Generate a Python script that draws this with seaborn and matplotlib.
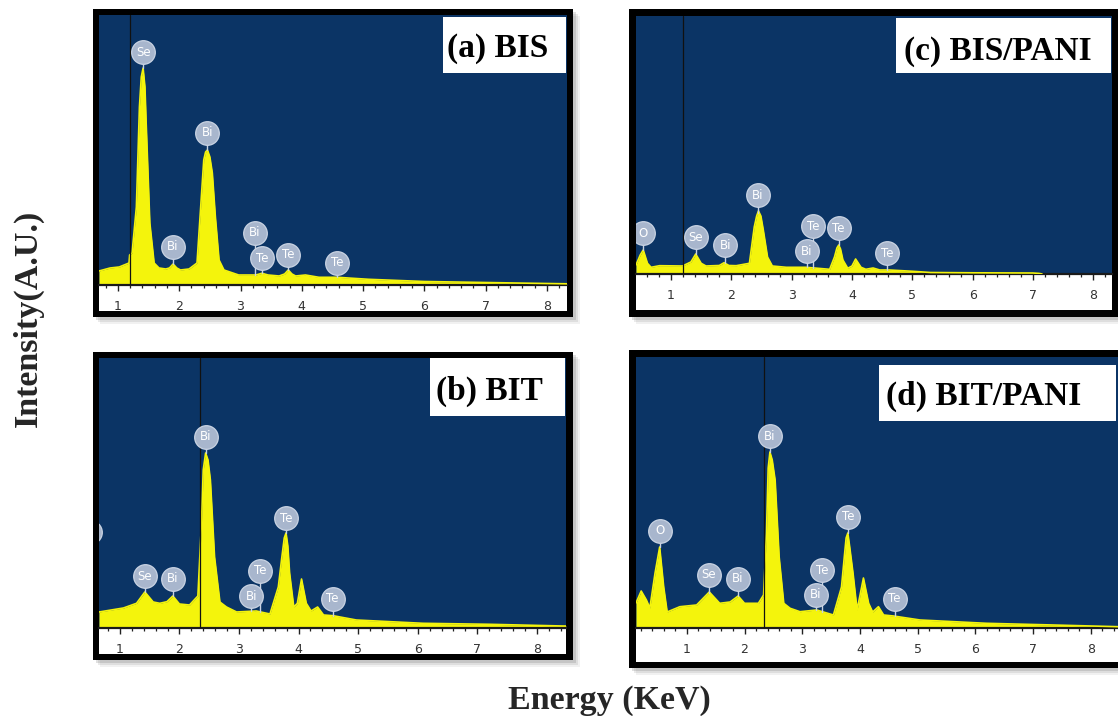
import numpy as np
import pandas as pd
import matplotlib
matplotlib.use("Agg")
import matplotlib.pyplot as plt
from matplotlib.patches import Rectangle
from matplotlib.ticker import MultipleLocator
import seaborn as sns

# ---------------------------------------------------------------- spectra
# EDS spectra: energy (keV) and intensity (arbitrary units)
bis_energy = [0.69, 0.87, 1.02, 1.18, 1.19, 1.23, 1.30, 1.35, 1.38, 1.41, 1.44, 1.46,
              1.52, 1.59, 1.67, 1.78, 1.84, 1.90, 1.96, 2.02, 2.16, 2.29, 2.35, 2.40,
              2.43, 2.46, 2.50, 2.54, 2.59, 2.65, 2.73, 2.97, 3.25, 3.35, 3.45, 3.63,
              3.72, 3.78, 3.84, 3.90, 4.06, 4.28, 4.58, 5.09, 6.00, 7.00, 8.00, 8.33]
bis_counts = [14, 17, 18, 22, 30, 32, 78, 178, 208, 217, 198, 162,
              62, 22, 17, 16, 17, 21, 17, 15, 16, 22, 78, 125,
              133, 135, 128, 112, 68, 25, 15, 10, 10, 11.7, 10, 9,
              11, 15, 11, 9, 10, 7.7, 7.7, 5.7, 3.5, 2.5, 1.5, 1.2]

bis_pani_energy = [0.42, 0.49, 0.54, 0.61, 0.67, 0.81, 1.19, 1.33, 1.41, 1.50, 1.58,
                   1.80, 1.88, 1.96, 2.08, 2.30, 2.38, 2.42, 2.45, 2.49, 2.53, 2.60,
                   2.68, 2.91, 3.24, 3.63, 3.71, 3.75, 3.78, 3.81, 3.85, 3.93, 4.00,
                   4.06, 4.15, 4.23, 4.35, 4.46, 4.62, 5.01, 5.30, 6.00, 7.00, 7.10, 7.15]
bis_pani_counts = [9, 19, 24, 10.7, 6.7, 8.3, 8, 12, 20, 10.7, 8,
                   8.5, 11.3, 8.5, 8.3, 10.7, 47, 58, 63, 58, 44, 17,
                   8, 6.7, 6.7, 4.7, 17, 26, 29, 25, 14, 5.7, 8,
                   15, 6.7, 4.7, 6, 4, 4, 2.7, 1.5, 1.2, 1.0, 0.6, 0]

bit_energy = [0.65, 1.06, 1.28, 1.42, 1.56, 1.67, 1.79, 1.89, 2.00, 2.17, 2.31, 2.37,
              2.40, 2.44, 2.48, 2.52, 2.59, 2.68, 2.79, 2.96, 3.29, 3.52, 3.66, 3.72,
              3.76, 3.79, 3.82, 3.85, 3.92, 3.98, 4.05, 4.13, 4.21, 4.32, 4.42, 4.58,
              4.97, 6.09, 7.21, 8.44, 8.49]
bit_counts = [16, 20, 24.7, 36, 26, 24.7, 26.3, 32, 24, 23, 32, 105,
              158, 175, 168, 148, 71, 26, 21, 16, 17, 14, 41, 71,
              90, 95, 82, 55, 21, 24.7, 49, 24.7, 17, 21, 13, 12.3,
              8, 4.7, 3.7, 2, 2]

bit_pani_energy = [0.12, 0.21, 0.30, 0.36, 0.45, 0.53, 0.60, 0.66, 0.88, 1.17, 1.39,
                   1.57, 1.75, 1.89, 2.00, 2.24, 2.33, 2.38, 2.41, 2.44, 2.48, 2.53,
                   2.60, 2.68, 2.79, 2.96, 3.25, 3.54, 3.68, 3.73, 3.76, 3.79, 3.82,
                   3.88, 3.95, 4.06, 4.15, 4.22, 4.32, 4.41, 4.58, 5.04, 6.19, 7.35, 8.47]
bit_pani_counts = [25, 37, 28, 20, 55, 81, 41, 16, 21.3, 23, 36,
                   24.7, 26, 32, 24.7, 24.7, 33, 95, 160, 176, 168, 148,
                   71, 24.7, 19.7, 16.3, 18, 13, 41, 72, 90, 95, 82,
                   54.7, 18, 50, 24.7, 16, 21.3, 13, 12, 8, 4.7, 3, 1.3]

# ---------------------------------------------------------------- peak markers
bis_peak_names = ["Se", "Bi", "Bi", "Bi", "Te", "Te", "Te"]
bis_peak_energy = [1.41, 2.46, 1.90, 3.23, 3.35, 3.78, 4.58]
bis_peak_level = [233, 152, 38, 52, 27, 30, 22]

bis_pani_peak_names = ["O", "Se", "Bi", "Bi", "Te", "Bi", "Te", "Te"]
bis_pani_peak_energy = [0.54, 1.41, 1.90, 2.44, 3.35, 3.25, 3.78, 4.58]
bis_pani_peak_level = [41, 37, 29, 79, 48, 23, 46, 21]

bit_peak_names = ["O", "Se", "Bi", "Bi", "Te", "Bi", "Te", "Te"]
bit_peak_energy = [0.50, 1.42, 1.89, 2.44, 3.35, 3.21, 3.79, 4.57]
bit_peak_level = [96, 52, 49, 191, 57, 32, 110, 29]

bit_pani_peak_names = ["O", "Se", "Bi", "Bi", "Te", "Bi", "Te", "Te"]
bit_pani_peak_energy = [0.53, 1.38, 1.88, 2.44, 3.34, 3.24, 3.79, 4.60]
bit_pani_peak_level = [97, 53, 49, 192, 58, 33, 111, 29]

panel_titles = ["(a) BIS", "(c) BIS/PANI", "(b) BIT", "(d) BIT/PANI"]
tick_values = [1, 2, 3, 4, 5, 6, 7, 8]
cursor_energy = [1.2, 1.2, 2.34, 2.34]

# ---------------------------------------------------------------- styling
NAVY = "#0b3465"
YELLOW = "#f4f40c"
BADGE = "#a8b6cd"
BADGE_EDGE = "#c9d3e3"

W, H, DPI = 1118, 716, 100

sns.set_theme(style="ticks")
plt.rcParams["font.family"] = ["DejaVu Sans"]

fig = plt.figure(figsize=(W / DPI, H / DPI), dpi=DPI)
fig.patch.set_facecolor("white")


def fig_box(x0, y0, x1, y1):
    """Pixel box (top-left origin) -> figure-fraction [left, bottom, width, height]."""
    return [x0 / W, 1 - y1 / H, (x1 - x0) / W, (y1 - y0) / H]


def add_rect(x0, y0, x1, y1, **kw):
    l, b, w, h = fig_box(x0, y0, x1, y1)
    fig.add_artist(Rectangle((l, b), w, h, transform=fig.transFigure, **kw))


# layout of each framed spectrum window (pixels)
layout = [
    dict(frame=(93, 9, 573, 317), plot=(99, 15, 567, 285), strip=311, xlim=(0.69, 8.33),
         box=(443, 17, 566, 73), title_xy=(498, 57)),
    dict(frame=(629, 9, 1118, 317), plot=(636, 16, 1112, 274), strip=310, xlim=(0.42, 8.31),
         box=(896, 18, 1111, 73), title_xy=(998, 60)),
    dict(frame=(93, 352, 573, 660), plot=(99, 358, 566, 628), strip=654, xlim=(0.65, 8.49),
         box=(430, 358, 565, 416), title_xy=(489, 400)),
    dict(frame=(629, 350, 1124, 668), plot=(636, 357, 1118, 628), strip=662, xlim=(0.12, 8.47),
         box=(879, 365, 1116, 421), title_xy=(984, 405)),
]

spectra = [
    (bis_energy, bis_counts, bis_peak_names, bis_peak_energy, bis_peak_level),
    (bis_pani_energy, bis_pani_counts, bis_pani_peak_names, bis_pani_peak_energy, bis_pani_peak_level),
    (bit_energy, bit_counts, bit_peak_names, bit_peak_energy, bit_peak_level),
    (bit_pani_energy, bit_pani_counts, bit_pani_peak_names, bit_pani_peak_energy, bit_pani_peak_level),
]

for lay, spec, title, cursor in zip(layout, spectra, panel_titles, cursor_energy):
    energy, counts, names, p_energy, p_level = spec
    fx0, fy0, fx1, fy1 = lay["frame"]
    px0, py0, px1, py1 = lay["plot"]

    # soft drop shadow, black frame and white scale strip
    for off, a in [(7, 0.08), (5, 0.12), (3, 0.18)]:
        add_rect(fx0 + off, fy0 + off, fx1 + off, fy1 + off, fc="#555555", ec="none",
                 alpha=a, zorder=-4)
    add_rect(fx0, fy0, fx1, fy1, fc="black", ec="none", zorder=-3)
    add_rect(px0, py0, px1, lay["strip"], fc="white", ec="none", zorder=-2)

    ax = fig.add_axes(fig_box(px0, py0, px1, py1))
    ax.set_facecolor(NAVY)

    df = pd.DataFrame({"energy": energy, "counts": counts})
    ax.fill_between(df["energy"], 0, df["counts"], color=YELLOW, lw=0, zorder=2)
    sns.lineplot(data=df, x="energy", y="counts", ax=ax, color=YELLOW, lw=1.2,
                 sort=False, zorder=3)
    ax.axvline(cursor, color="#111111", lw=0.9, zorder=3.5)

    # element markers with stems
    for name, e, lvl in zip(names, p_energy, p_level):
        top = float(np.interp(e, energy, counts))
        ax.plot([e, e], [top, lvl], color=BADGE_EDGE, lw=1.0, zorder=4)
    for name, e, lvl in zip(names, p_energy, p_level):
        ax.plot([e], [lvl], marker="o", ms=17, mfc=BADGE, mec=BADGE_EDGE, mew=0.9,
                zorder=5, clip_on=True)
        ax.text(e, lvl, name, ha="center", va="center", color="white", fontsize=8.5,
                zorder=6, clip_on=True)

    ax.set_xlim(*lay["xlim"])
    ax.set_ylim(0, py1 - py0)
    ax.set_xticks(tick_values)
    ax.set_xticklabels([str(t) for t in tick_values])
    ax.xaxis.set_minor_locator(MultipleLocator(0.2))
    ax.set_yticks([])
    ax.set_xlabel("")
    ax.set_ylabel("")
    for side in ("left", "right", "top"):
        ax.spines[side].set_visible(False)
    ax.spines["bottom"].set_color("#1a1a1a")
    ax.spines["bottom"].set_linewidth(1.6)
    ax.tick_params(axis="x", which="major", direction="out", length=4, width=1.0,
                   color="#222222", pad=7, labelsize=9, labelcolor="#333333")
    ax.tick_params(axis="x", which="minor", direction="out", length=2.4, width=0.9,
                   color="#222222")

    # sample caption box
    add_rect(*lay["box"], fc="white", ec="none", zorder=2)
    tx, ty = lay["title_xy"]
    fig.text(tx / W, 1 - ty / H, title, ha="center", va="baseline",
             family=["Liberation Serif", "DejaVu Serif"], weight="bold", fontsize=24,
             color="black", zorder=3)

fig.text(28 / W, 1 - 318 / H, "Intensity(A.U.)", rotation=90, ha="center", va="center",
         family=["Liberation Serif", "DejaVu Serif"], weight="bold", fontsize=24.5)
fig.text(609 / W, 1 - 709 / H, "Energy (KeV)", ha="center", va="baseline",
         family=["Liberation Serif", "DejaVu Serif"], weight="bold", fontsize=24.5)

fig.savefig("out.png", dpi=DPI, facecolor="white")
